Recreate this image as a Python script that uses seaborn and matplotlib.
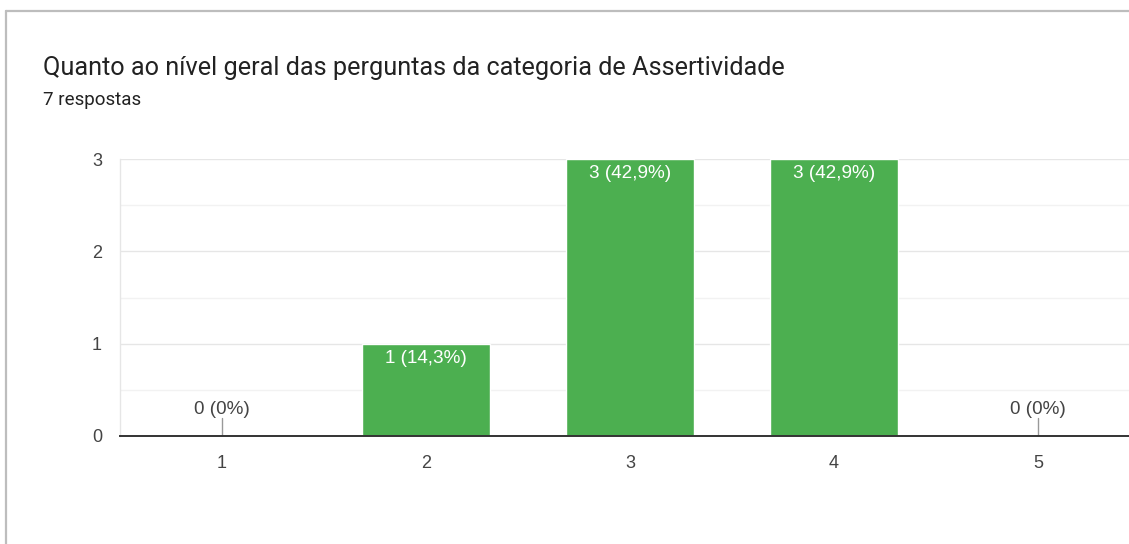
import matplotlib
matplotlib.use("Agg")
import matplotlib.pyplot as plt
import seaborn as sns
import pandas as pd
from matplotlib.lines import Line2D
from matplotlib.ticker import MultipleLocator

# ---- data ----
categories = ["1", "2", "3", "4", "5"]
counts = [0, 1, 3, 3, 0]
labels = ["0 (0%)", "1 (14,3%)", "3 (42,9%)", "3 (42,9%)", "0 (0%)"]
title = "Quanto ao nível geral das perguntas da categoria de Assertividade"
subtitle = "7 respostas"
y_ticks = [0, 1, 2, 3]

df = pd.DataFrame({"cat": categories, "n": counts})

sns.set_theme(style="white")
plt.rcParams["font.family"] = ["Liberation Sans", "DejaVu Sans"]

W, H = 1129, 544
fig = plt.figure(figsize=(W / 100, H / 100), dpi=100)
fig.patch.set_facecolor("white")

# card border
fig.add_artist(Line2D([6 / W, 6 / W], [0, 1 - 11 / H], color="#bdbdbd", lw=1.6))
fig.add_artist(Line2D([6 / W, 1.0], [1 - 11 / H, 1 - 11 / H], color="#bdbdbd", lw=1.6))

fig.text(43 / W, 1 - 68 / H, title, family="Roboto", fontsize=18.2, color="#222222", va="center", ha="left")
fig.text(43 / W, 1 - 100 / H, subtitle, family="Roboto", fontsize=13.5, color="#222222", va="center", ha="left")

left, right = 120, 1140
bottom, top = 436, 159
ax = fig.add_axes([left / W, 1 - bottom / H, (right - left) / W, (bottom - top) / H])

sns.barplot(data=df, x="cat", y="n", order=categories, color="#4caf50", saturation=1,
            width=0.625, ax=ax, zorder=3)

ax.set_xlim(-0.5, len(categories) - 0.5)
ax.set_ylim(0, 3)
ax.set_yticks(y_ticks)
ax.yaxis.set_minor_locator(MultipleLocator(0.5))
ax.grid(True, which="major", axis="y", color="#e6e6e6", lw=1, zorder=0)
ax.grid(True, which="minor", axis="y", color="#f2f2f2", lw=1, zorder=0)
ax.set_xlabel("")
ax.set_ylabel("")
for s in ["top", "right"]:
    ax.spines[s].set_visible(False)
ax.spines["left"].set_color("#e6e6e6")
ax.spines["left"].set_linewidth(1)
ax.spines["bottom"].set_color("#333333")
ax.spines["bottom"].set_linewidth(1.4)
ax.spines["bottom"].set_zorder(5)
ax.tick_params(axis="both", which="both", length=0, labelsize=13, colors="#444444")
ax.tick_params(axis="x", pad=14)
ax.tick_params(axis="y", pad=13)

for i, (v, lab) in enumerate(zip(counts, labels)):
    if v > 0:
        ax.annotate(lab, (i, v), xytext=(0, -15), textcoords="offset pixels",
                    ha="center", va="center", color="white", fontsize=13.6, zorder=6)
    else:
        ax.plot([i, i], [0, 0.19], color="#999999", lw=1, zorder=4)
        ax.annotate(lab, (i, 0.2), xytext=(0, 8), textcoords="offset pixels",
                    ha="center", va="center", color="#444444", fontsize=13.6, zorder=6)

fig.savefig("out.png", dpi=100)
